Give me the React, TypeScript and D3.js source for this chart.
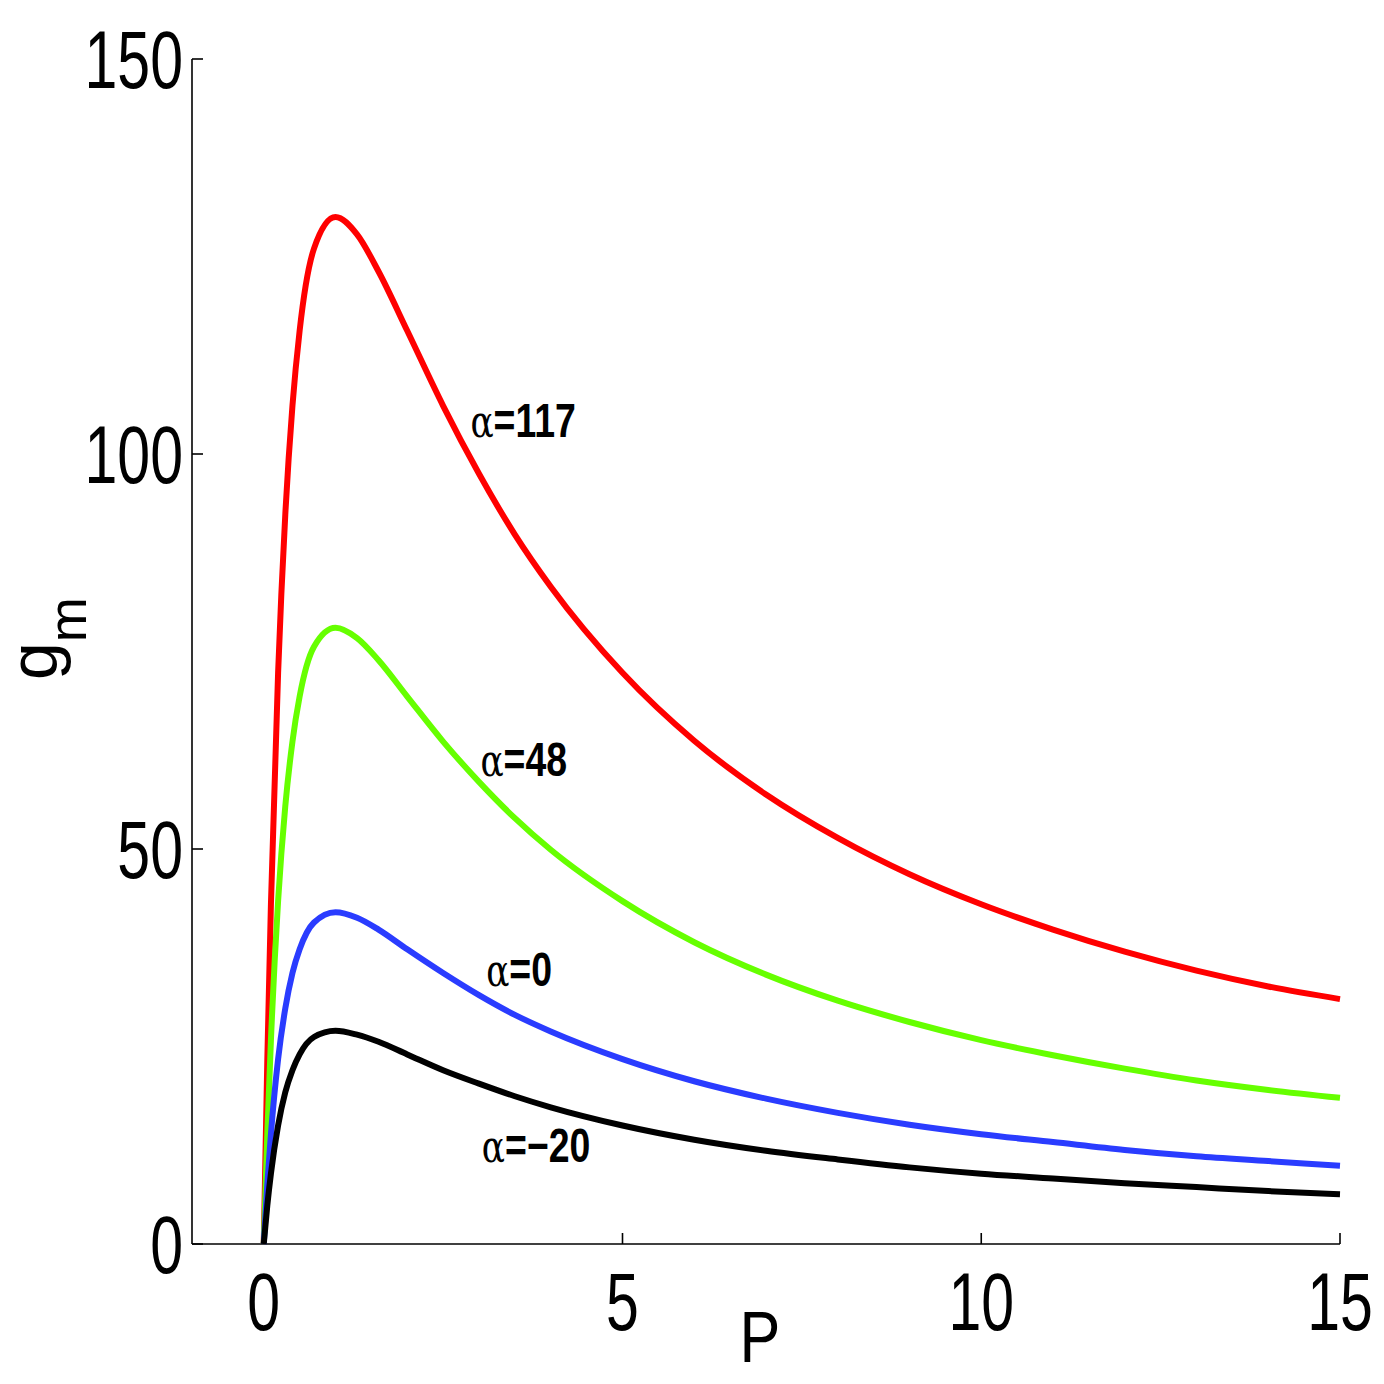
import * as d3 from "d3";

const pValues = [0, 0.05, 0.1, 0.2, 0.3, 0.4, 0.5, 0.7, 1, 1.3, 1.6, 2, 2.5, 3, 3.5, 4, 5, 6, 7, 8, 9, 10, 11, 12, 13, 14, 15];

const gmAlpha117 = [0, 23.5, 43.0, 72.3, 92.3, 106.1, 115.6, 126.0, 130, 127.8, 123.1, 115.6, 106.1, 97.5, 89.8, 83.2, 72.3, 63.7, 56.9, 51.4, 46.8, 43.0, 39.8, 37.0, 34.6, 32.6, 31.0];
const gmAlpha48 = [0, 14.1, 25.8, 43.4, 55.4, 63.6, 69.3, 75.6, 78, 76.7, 73.9, 69.3, 63.6, 58.5, 53.9, 49.9, 43.4, 38.2, 34.1, 30.8, 28.1, 25.8, 23.9, 22.2, 20.7, 19.5, 18.5];
const gmAlpha0 = [0, 7.6, 13.9, 23.4, 29.8, 34.3, 37.3, 40.7, 42, 41.3, 39.8, 37.3, 34.3, 31.5, 29.0, 26.9, 23.4, 20.6, 18.4, 16.6, 15.1, 13.9, 12.9, 11.9, 11.1, 10.5, 9.9];
const gmAlphaM20 = [0, 4.9, 8.9, 15.0, 19.2, 22.0, 24.0, 26.2, 27, 26.5, 25.6, 24.0, 22.0, 20.3, 18.7, 17.3, 15.0, 13.2, 11.8, 10.7, 9.7, 8.9, 8.3, 7.7, 7.2, 6.7, 6.3];

const xTicks = [0, 5, 10, 15];
const yTicks = [0, 50, 100, 150];

const series = [
  { label: "117", color: "#ff0000", values: gmAlpha117, at: [2.88, 102.2] },
  { label: "48", color: "#66ff00", values: gmAlpha48, at: [3.02, 59.2] },
  { label: "0", color: "#2a3cff", values: gmAlpha0, at: [3.1, 32.6] },
  { label: "−20", color: "#000000", values: gmAlphaM20, at: [3.04, 10.4] },
];

const W = 1384, H = 1384;
const sans = "'Liberation Sans', Arial, Helvetica, sans-serif";

// no narrow face installed: squeeze a regular one horizontally
function Narrow({ x, y, sx, children, ...rest }: any) {
  return (
    <g transform={`translate(${x},${y}) scale(${sx},1)`}>
      <text x={0} y={0} fontFamily={sans} {...rest}>{children}</text>
    </g>
  );
}

export default function App() {
  const x = d3.scaleLinear().domain([-1, 15]).range([192, 1340]);
  const y = d3.scaleLinear().domain([0, 150]).range([1244, 59]);
  const line = (vals: number[]) =>
    d3.line<number>().x((_, i) => x(pValues[i])).y((v) => y(v)).curve(d3.curveMonotoneX)(vals) ?? "";

  const x0 = x.range()[0], x1 = x.range()[1];
  const y0 = y.range()[0], y1 = y.range()[1];

  return (
    <svg width={W} height={H} style={{ position: "absolute", left: 0, top: 0, background: "#fff" }}>
      {/* axes */}
      <line x1={x0} x2={x0} y1={y1} y2={y0} stroke="#000" strokeWidth={1.6} />
      <line x1={x0} x2={x1} y1={y0} y2={y0} stroke="#000" strokeWidth={1.6} />
      {yTicks.map((t) => (
        <g key={`y${t}`}>
          <line x1={x0} x2={x0 + 11} y1={y(t)} y2={y(t)} stroke="#000" strokeWidth={1.6} />
          <Narrow x={x0 - 9} y={y(t) + 29} sx={0.72} textAnchor="end" fontSize={82}>{t}</Narrow>
        </g>
      ))}
      {xTicks.map((t) => (
        <g key={`x${t}`}>
          <line x1={x(t)} x2={x(t)} y1={y0} y2={y0 - 11} stroke="#000" strokeWidth={1.6} />
          <Narrow x={x(t)} y={y0 + 86} sx={0.72} textAnchor="middle" fontSize={82}>{t}</Narrow>
        </g>
      ))}
      <Narrow x={760} y={1362} sx={0.85} textAnchor="middle" fontSize={72}>P</Narrow>
      <text transform="translate(57,680) rotate(-90)" textAnchor="start" fontSize={68} fontFamily={sans}>
        g<tspan fontSize={54} dy={29}>m</tspan>
      </text>

      {/* curves */}
      {series.map((s) => (
        <path key={s.label} d={line(s.values)} fill="none" stroke={s.color} strokeWidth={6} strokeLinejoin="round" />
      ))}

      {/* curve labels */}
      {series.map((s) => (
        <Narrow key={`l${s.label}`} x={x(s.at[0])} y={y(s.at[1])} sx={0.78} fontSize={48} fontWeight="bold">
          <tspan fontWeight="normal" fontFamily="'DejaVu Serif', 'Liberation Serif', serif" fontSize={44}>α</tspan>={s.label}
        </Narrow>
      ))}
    </svg>
  );
}
